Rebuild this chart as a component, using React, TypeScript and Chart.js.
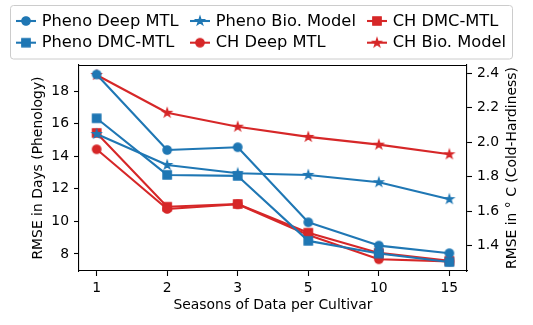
import React, { useEffect, useRef } from "react";
import { Chart, registerables } from "chart.js";

Chart.register(...registerables);

// ---- data ----
const seasons = ["1", "2", "3", "5", "10", "15"];
const phenoDeepMTL = [19.02, 14.38, 14.55, 9.94, 8.51, 8.04];
const phenoDMCMTL = [16.33, 12.85, 12.79, 8.8, 8.02, 7.5];
const phenoBioModel = [15.36, 13.46, 12.95, 12.85, 12.4, 11.36];
const chDeepMTL = [1.959, 1.613, 1.64, 1.462, 1.321, 1.309];
const chDMCMTL = [2.054, 1.626, 1.642, 1.475, 1.358, 1.312];
const chBioModel = [2.39, 2.171, 2.09, 2.031, 1.986, 1.93];
const leftTicks = [8, 10, 12, 14, 16, 18];
const rightTicks = [1.4, 1.6, 1.8, 2.0, 2.2, 2.4];

const BLUE = "#1f77b4";
const RED = "#d62728";
const FONT = "'DejaVu Sans', sans-serif";

type Shape = "circle" | "square" | "star";

function makeMarker(shape: Shape, color: string): HTMLCanvasElement {
  const c = document.createElement("canvas");
  c.width = 14;
  c.height = 14;
  const ctx = c.getContext("2d")!;
  ctx.fillStyle = color;
  ctx.strokeStyle = color;
  ctx.lineWidth = 1.39;
  ctx.lineJoin = "miter";
  const cx = 7, cy = 7;
  ctx.beginPath();
  if (shape === "circle") {
    ctx.arc(cx, cy, 4.17, 0, Math.PI * 2);
  } else if (shape === "square") {
    ctx.rect(cx - 4.17, cy - 4.17, 8.33, 8.33);
  } else {
    const R = 4.3, r = R * 0.381966;
    for (let i = 0; i < 10; i++) {
      const ang = -Math.PI / 2 + (i * Math.PI) / 5;
      const rad = i % 2 === 0 ? R : r;
      const px = cx + rad * Math.cos(ang);
      const py = cy + rad * Math.sin(ang);
      if (i === 0) ctx.moveTo(px, py);
      else ctx.lineTo(px, py);
    }
  }
  ctx.closePath();
  ctx.fill();
  ctx.stroke();
  return c;
}

const seriesDefs: { label: string; data: number[]; color: string; shape: Shape; axis: string }[] = [
  { label: "Pheno Deep MTL", data: phenoDeepMTL, color: BLUE, shape: "circle", axis: "y" },
  { label: "Pheno DMC-MTL", data: phenoDMCMTL, color: BLUE, shape: "square", axis: "y" },
  { label: "Pheno Bio. Model", data: phenoBioModel, color: BLUE, shape: "star", axis: "y" },
  { label: "CH Deep MTL", data: chDeepMTL, color: RED, shape: "circle", axis: "y2" },
  { label: "CH DMC-MTL", data: chDMCMTL, color: RED, shape: "square", axis: "y2" },
  { label: "CH Bio. Model", data: chBioModel, color: RED, shape: "star", axis: "y2" },
];

export default function App() {
  const ref = useRef<HTMLCanvasElement | null>(null);

  useEffect(() => {
    document.body.style.margin = "0";
    const canvas = ref.current;
    if (!canvas) return;

    const markers = seriesDefs.map((s) => makeMarker(s.shape, s.color));

    const datasets = seriesDefs.map((s, i) => ({
      label: s.label,
      data: s.data.map((v, j) => ({ x: j, y: v })),
      borderColor: s.color,
      backgroundColor: s.color,
      borderWidth: 2.08,
      borderJoinStyle: "round" as const,
      pointStyle: markers[i],
      pointRadius: 4,
      pointHoverRadius: 4,
      yAxisID: s.axis,
      order: s.axis === "y" ? 0 : 1,
      tension: 0,
    }));

    const framePlugin = {
      id: "framePlugin",
      afterDraw(chart: any) {
        const ctx = chart.ctx as CanvasRenderingContext2D;
        const a = chart.chartArea;
        ctx.save();
        // top spine
        ctx.strokeStyle = "#000";
        ctx.lineWidth = 1.1;
        ctx.beginPath();
        ctx.moveTo(a.left, Math.round(a.top) + 0.5);
        ctx.lineTo(a.right, Math.round(a.top) + 0.5);
        ctx.stroke();

        // right axis title (bottom-to-top)
        ctx.fillStyle = "#000";
        ctx.font = `13.9px ${FONT}`;
        ctx.textAlign = "center";
        ctx.textBaseline = "middle";
        ctx.translate(512, (a.top + a.bottom) / 2);
        ctx.rotate(-Math.PI / 2);
        ctx.fillText("RMSE in \u00B0 C (Cold-Hardiness)", 0, 0);
        ctx.restore();

        // legend
        ctx.save();
        const lx = 10.5, ly = 5.5, lw = 502, lh = 53.5, rr = 3;
        ctx.beginPath();
        ctx.moveTo(lx + rr, ly);
        ctx.lineTo(lx + lw - rr, ly);
        ctx.quadraticCurveTo(lx + lw, ly, lx + lw, ly + rr);
        ctx.lineTo(lx + lw, ly + lh - rr);
        ctx.quadraticCurveTo(lx + lw, ly + lh, lx + lw - rr, ly + lh);
        ctx.lineTo(lx + rr, ly + lh);
        ctx.quadraticCurveTo(lx, ly + lh, lx, ly + lh - rr);
        ctx.lineTo(lx, ly + rr);
        ctx.quadraticCurveTo(lx, ly, lx + rr, ly);
        ctx.closePath();
        ctx.fillStyle = "rgba(255,255,255,0.8)";
        ctx.fill();
        ctx.strokeStyle = "#cccccc";
        ctx.lineWidth = 1;
        ctx.stroke();

        const colX = [16, 190, 367];
        const rowY = [21, 42.7];
        ctx.font = `16.3px ${FONT}`;
        ctx.textAlign = "left";
        ctx.textBaseline = "middle";
        seriesDefs.forEach((s, i) => {
          const col = Math.floor(i / 2);
          const row = i % 2;
          const x0 = colX[col];
          const y0 = rowY[row];
          ctx.strokeStyle = s.color;
          ctx.lineWidth = 2.08;
          ctx.beginPath();
          ctx.moveTo(x0, y0);
          ctx.lineTo(x0 + 20, y0);
          ctx.stroke();
          const m = markers[i];
          ctx.drawImage(m, x0 + 10 - m.width / 2, y0 - m.height / 2);
          ctx.fillStyle = "#000";
          ctx.fillText(s.label, x0 + 25.7, y0 + 0.5);
        });
        ctx.restore();
      },
    };

    const tickFont = { family: FONT, size: 13.9 };

    const chart = new Chart(canvas, {
      type: "line",
      data: { datasets: datasets as any },
      options: {
        responsive: false,
        animation: false,
        devicePixelRatio: 1,
        layout: { padding: { top: 65, left: 0, right: 0, bottom: 0 } },
        plugins: {
          legend: { display: false },
          tooltip: { enabled: false },
        },
        scales: {
          x: {
            type: "linear",
            min: -0.25,
            max: 5.25,
            afterBuildTicks: (s: any) => {
              s.ticks = seasons.map((_, i) => ({ value: i }));
            },
            afterFit: (s: any) => {
              s.height = 54;
            },
            ticks: {
              callback: (v: any) => seasons[v as number],
              font: tickFont,
              color: "#000",
              padding: 4,
              autoSkip: false,
              maxRotation: 0,
            },
            grid: {
              drawOnChartArea: false,
              drawTicks: true,
              tickLength: 5,
              tickColor: "#000",
              tickWidth: 1.1,
            },
            border: { display: true, color: "#000", width: 1.1 },
            title: {
              display: true,
              text: "Seasons of Data per Cultivar",
              font: tickFont,
              color: "#000",
              padding: { top: 0, bottom: 11 },
            },
          },
          y: {
            type: "linear",
            position: "left",
            min: 6.95,
            max: 19.6,
            afterBuildTicks: (s: any) => {
              s.ticks = leftTicks.map((v) => ({ value: v }));
            },
            afterFit: (s: any) => {
              s.width = 79;
            },
            ticks: {
              callback: (v: any) => String(v),
              font: tickFont,
              color: "#000",
              padding: 5,
            },
            grid: {
              drawOnChartArea: false,
              drawTicks: true,
              tickLength: 5,
              tickColor: "#000",
              tickWidth: 1.1,
            },
            border: { display: true, color: "#000", width: 1.1 },
            title: {
              display: true,
              text: "RMSE in Days (Phenology)",
              font: tickFont,
              color: "#000",
              padding: { top: 30, bottom: 0 },
            },
          },
          y2: {
            type: "linear",
            position: "right",
            min: 1.253,
            max: 2.448,
            afterBuildTicks: (s: any) => {
              s.ticks = rightTicks.map((v) => ({ value: v }));
            },
            afterFit: (s: any) => {
              s.width = 66;
            },
            ticks: {
              callback: (v: any) => Number(v).toFixed(1),
              font: tickFont,
              color: "#000",
              padding: 5,
            },
            grid: {
              drawOnChartArea: false,
              drawTicks: true,
              tickLength: 5,
              tickColor: "#000",
              tickWidth: 1.1,
            },
            border: { display: true, color: "#000", width: 1.1 },
            title: { display: false },
          },
        },
      },
      plugins: [framePlugin],
    });

    return () => {
      chart.destroy();
    };
  }, []);

  return (
    <div style={{ width: 533, height: 325 }}>
      <canvas ref={ref} width={533} height={325} style={{ display: "block", width: 533, height: 325 }} />
    </div>
  );
}
